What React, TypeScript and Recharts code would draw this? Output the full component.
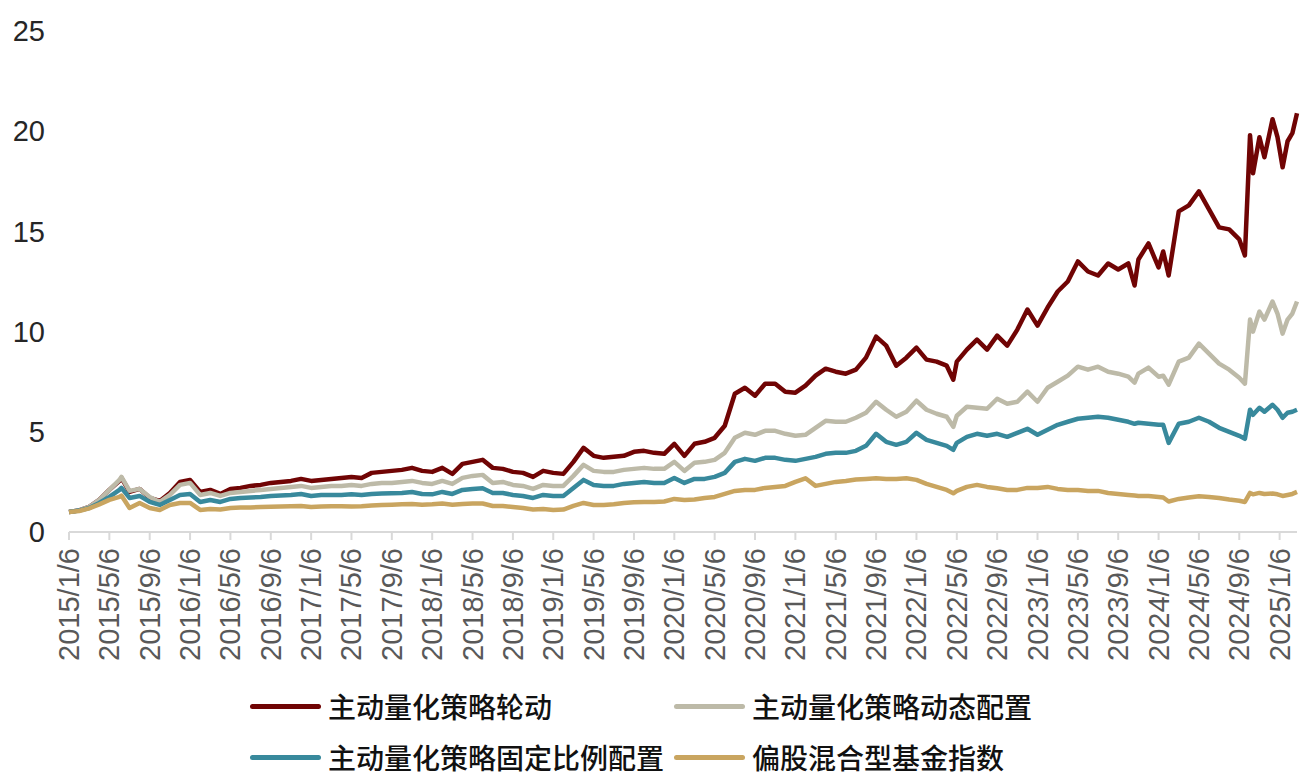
import { LineChart, Line, XAxis, YAxis } from 'recharts'

// observation dates (roughly monthly, with extra points around sharp moves)
const dates = [
  '2015/1/6', '2015/2/6', '2015/3/6', '2015/4/6', '2015/5/6', '2015/6/6', '2015/6/12', '2015/7/6', '2015/8/6', '2015/9/6', '2015/10/6', '2015/11/6', '2015/12/6',
  '2016/1/6', '2016/2/6', '2016/3/6', '2016/4/6', '2016/5/6', '2016/6/6', '2016/7/6', '2016/8/6', '2016/9/6', '2016/10/6', '2016/11/6', '2016/12/6',
  '2017/1/6', '2017/2/6', '2017/3/6', '2017/4/6', '2017/5/6', '2017/6/6', '2017/7/6', '2017/8/6', '2017/9/6', '2017/10/6', '2017/11/6', '2017/12/6',
  '2018/1/6', '2018/2/6', '2018/3/6', '2018/4/6', '2018/5/6', '2018/6/6', '2018/7/6', '2018/8/6', '2018/9/6', '2018/10/6', '2018/11/6', '2018/12/6',
  '2019/1/6', '2019/2/6', '2019/3/6', '2019/4/6', '2019/5/6', '2019/6/6', '2019/7/6', '2019/8/6', '2019/9/6', '2019/10/6', '2019/11/6', '2019/12/6',
  '2020/1/6', '2020/2/6', '2020/3/6', '2020/4/6', '2020/5/6', '2020/6/6', '2020/7/6', '2020/8/6', '2020/9/6', '2020/10/6', '2020/11/6', '2020/12/6',
  '2021/1/6', '2021/2/6', '2021/3/6', '2021/4/6', '2021/5/6', '2021/6/6', '2021/7/6', '2021/8/6', '2021/9/6', '2021/10/6', '2021/11/6', '2021/12/6',
  '2022/1/6', '2022/2/6', '2022/3/6', '2022/4/6', '2022/4/26', '2022/5/6', '2022/6/6', '2022/7/6', '2022/8/6', '2022/9/6', '2022/10/6', '2022/11/6', '2022/12/6',
  '2023/1/6', '2023/2/6', '2023/3/6', '2023/4/6', '2023/5/6', '2023/6/6', '2023/7/6', '2023/8/6', '2023/9/6', '2023/10/6', '2023/10/25', '2023/11/6', '2023/12/6',
  '2024/1/6', '2024/1/20', '2024/2/6', '2024/3/6', '2024/4/6', '2024/5/6', '2024/6/6', '2024/7/6', '2024/8/6', '2024/9/6', '2024/9/23', '2024/10/8', '2024/10/17', '2024/11/6', '2024/11/21', '2024/12/15', '2024/12/30',
  '2025/1/15', '2025/1/30', '2025/2/14', '2025/2/28',
]

const rotation = [
  1.0, 1.08, 1.25, 1.6, 2.1, 2.55, 2.7, 2.0, 2.15, 1.7, 1.55, 1.95, 2.5,
  2.6, 2.0, 2.1, 1.9, 2.15, 2.2, 2.3, 2.35, 2.45, 2.5, 2.55, 2.65,
  2.55, 2.6, 2.65, 2.7, 2.75, 2.7, 2.95, 3.0, 3.05, 3.1, 3.2, 3.05,
  3.0, 3.2, 2.9, 3.4, 3.5, 3.6, 3.2, 3.15, 3.0, 2.95, 2.75, 3.05,
  2.95, 2.9, 3.5, 4.2, 3.8, 3.7, 3.75, 3.8, 4.0, 4.05, 3.95, 3.9,
  4.4, 3.8, 4.4, 4.5, 4.7, 5.3, 6.9, 7.2, 6.8, 7.4, 7.4, 7.0,
  6.95, 7.3, 7.8, 8.15, 8.0, 7.9, 8.1, 8.7, 9.75, 9.3, 8.3, 8.7,
  9.2, 8.6, 8.5, 8.3, 7.6, 8.5, 9.1, 9.6, 9.1, 9.8, 9.3, 10.1, 11.1,
  10.3, 11.2, 12.0, 12.5, 13.5, 13.0, 12.8, 13.4, 13.1, 13.4, 12.3, 13.6, 14.4,
  13.2, 14.0, 12.8, 16.0, 16.3, 17.0, 16.1, 15.2, 15.1, 14.6, 13.8, 19.8, 17.9, 19.7, 18.7, 20.6, 19.7,
  18.2, 19.5, 19.9, 20.9,
]

const dynamicAlloc = [
  1.0, 1.08, 1.25, 1.6, 2.1, 2.6, 2.75, 2.05, 2.15, 1.75, 1.5, 1.85, 2.35,
  2.45, 1.85, 1.95, 1.8, 1.95, 2.0, 2.05, 2.1, 2.15, 2.2, 2.25, 2.3,
  2.2, 2.25, 2.3, 2.3, 2.35, 2.3, 2.4, 2.45, 2.45, 2.5, 2.55, 2.45,
  2.4, 2.55, 2.4, 2.7, 2.8, 2.85, 2.45, 2.5, 2.35, 2.3, 2.15, 2.35,
  2.3, 2.3, 2.8, 3.35, 3.05, 3.0, 3.0, 3.1, 3.15, 3.2, 3.15, 3.15,
  3.5, 3.05, 3.45, 3.5, 3.6, 3.95, 4.7, 4.95, 4.85, 5.05, 5.05, 4.9,
  4.8, 4.85, 5.2, 5.55, 5.5, 5.5, 5.7, 5.95, 6.5, 6.1, 5.75, 6.0,
  6.55, 6.1, 5.9, 5.75, 5.25, 5.8, 6.25, 6.2, 6.15, 6.65, 6.4, 6.5, 7.0,
  6.5, 7.2, 7.5, 7.8, 8.25, 8.1, 8.25, 8.0, 7.9, 7.75, 7.45, 7.9, 8.2,
  7.75, 7.8, 7.35, 8.5, 8.7, 9.4, 8.9, 8.4, 8.1, 7.7, 7.4, 10.6, 10.0, 11.0, 10.6, 11.5, 10.9,
  9.9, 10.6, 10.9, 11.5,
]

const fixedRatio = [
  1.0, 1.07, 1.2, 1.45, 1.75, 2.1, 2.2, 1.7, 1.8, 1.5, 1.35, 1.6, 1.85,
  1.9, 1.5, 1.6, 1.5, 1.65, 1.7, 1.72, 1.75, 1.8, 1.82, 1.85, 1.9,
  1.8, 1.85, 1.85, 1.85, 1.88, 1.85, 1.9, 1.92, 1.93, 1.95, 2.0, 1.9,
  1.88, 2.0, 1.9, 2.1, 2.15, 2.18, 1.95, 1.95, 1.85, 1.8, 1.7, 1.85,
  1.8, 1.8, 2.2, 2.6, 2.35, 2.3, 2.3, 2.4, 2.45, 2.5, 2.45, 2.45,
  2.7, 2.45, 2.65, 2.65, 2.75, 2.95, 3.5, 3.65, 3.55, 3.7, 3.7, 3.6,
  3.55, 3.65, 3.75, 3.9, 3.95, 3.95, 4.05, 4.3, 4.9, 4.5, 4.35, 4.5,
  4.95, 4.6, 4.45, 4.3, 4.1, 4.45, 4.75, 4.9, 4.8, 4.9, 4.75, 4.95, 5.15,
  4.85, 5.1, 5.35, 5.5, 5.65, 5.7, 5.75, 5.7, 5.6, 5.5, 5.4, 5.45, 5.4,
  5.35, 5.35, 4.45, 5.4, 5.5, 5.7, 5.5, 5.2, 5.0, 4.8, 4.65, 6.1, 5.85, 6.2, 6.0, 6.35, 6.1,
  5.7, 5.95, 6.0, 6.1,
]

const mixedIndex = [
  1.0, 1.05, 1.18, 1.38, 1.6, 1.75, 1.82, 1.2, 1.45, 1.2, 1.1, 1.35, 1.45,
  1.45, 1.1, 1.15, 1.12, 1.2, 1.22, 1.22, 1.25, 1.26, 1.27, 1.28, 1.3,
  1.25, 1.27, 1.28, 1.28, 1.27, 1.28, 1.32, 1.35, 1.36, 1.38, 1.4, 1.36,
  1.38, 1.42, 1.36, 1.4, 1.42, 1.42, 1.3, 1.3, 1.25, 1.2, 1.12, 1.15,
  1.1, 1.12, 1.3, 1.45, 1.35, 1.35, 1.38, 1.45, 1.48, 1.5, 1.5, 1.52,
  1.65, 1.6, 1.62, 1.7, 1.75, 1.9, 2.05, 2.1, 2.1, 2.2, 2.25, 2.3,
  2.5, 2.68, 2.3, 2.4, 2.5, 2.55, 2.62, 2.65, 2.68, 2.65, 2.65, 2.68,
  2.6, 2.4, 2.25, 2.1, 1.93, 2.05, 2.25, 2.35, 2.25, 2.18, 2.1, 2.1, 2.2,
  2.2, 2.25, 2.15, 2.1, 2.1, 2.05, 2.05, 1.95, 1.9, 1.85, 1.82, 1.8, 1.8,
  1.75, 1.72, 1.52, 1.65, 1.72, 1.78, 1.75, 1.7, 1.62, 1.56, 1.5, 1.95, 1.88, 1.95, 1.9, 1.92, 1.88,
  1.8, 1.85, 1.9, 2.0,
]

const tickLabels = [
  '2015/1/6', '2015/5/6', '2015/9/6', '2016/1/6', '2016/5/6', '2016/9/6', '2017/1/6', '2017/5/6',
  '2017/9/6', '2018/1/6', '2018/5/6', '2018/9/6', '2019/1/6', '2019/5/6', '2019/9/6', '2020/1/6',
  '2020/5/6', '2020/9/6', '2021/1/6', '2021/5/6', '2021/9/6', '2022/1/6', '2022/5/6', '2022/9/6',
  '2023/1/6', '2023/5/6', '2023/9/6', '2024/1/6', '2024/5/6', '2024/9/6', '2025/1/6',
]

const yTicks = [0, 5, 10, 15, 20, 25]

const SERIES = [
  { key: 'rotation', name: '主动量化策略轮动', color: '#700404' },
  { key: 'dynamic', name: '主动量化策略动态配置', color: '#BDBAA8' },
  { key: 'fixed', name: '主动量化策略固定比例配置', color: '#38899C' },
  { key: 'mixed', name: '偏股混合型基金指数', color: '#C9A560' },
]

// months elapsed since 2015/1/6
function toMonths(date: string): number {
  const [y, m, d] = date.split('/').map(Number)
  return (y - 2015) * 12 + (m - 1) + (d - 6) / 30.5
}

const data = dates.map((date, i) => ({
  t: toMonths(date),
  rotation: rotation[i],
  dynamic: dynamicAlloc[i],
  fixed: fixedRatio[i],
  mixed: mixedIndex[i],
}))

const xTicks = tickLabels.map(toMonths)

interface TickProps {
  x?: number
  y?: number
  index?: number
}

function DateTick({ x = 0, y = 0, index = 0 }: TickProps) {
  const ty = y + 6
  return (
    <text
      x={x}
      y={ty}
      transform={`rotate(-90 ${x} ${ty})`}
      textAnchor="end"
      dominantBaseline="central"
      fontSize={29}
      fill="#595959"
      fontFamily="'Liberation Sans', Arial, sans-serif"
    >
      {tickLabels[index]}
    </text>
  )
}

const legendRows = [
  [SERIES[0], SERIES[1]],
  [SERIES[2], SERIES[3]],
]

export default function App() {
  return (
    <div style={{ position: 'absolute', left: 0, top: 0, width: 1308, height: 783, background: '#fff' }}>
      <LineChart width={1308} height={783} data={data} margin={{ top: 31, right: 11, bottom: 111, left: 0 }}>
        <XAxis
          type="number"
          dataKey="t"
          domain={[0, data[data.length - 1].t]}
          ticks={xTicks}
          interval={0}
          height={140}
          tickSize={8}
          axisLine={{ stroke: '#D9D9D9', strokeWidth: 2 }}
          tickLine={{ stroke: '#D9D9D9', strokeWidth: 2 }}
          tick={<DateTick />}
        />
        <YAxis
          domain={[0, 25]}
          ticks={yTicks}
          width={69}
          axisLine={false}
          tickLine={false}
          tickSize={0}
          tickMargin={24}
          tick={{ fontSize: 29, fill: '#262626', fontFamily: "'Liberation Sans', Arial, sans-serif" }}
        />
        {SERIES.map((s) => (
          <Line
            key={s.key}
            dataKey={s.key}
            name={s.name}
            type="linear"
            stroke={s.color}
            strokeWidth={4.5}
            strokeLinejoin="round"
            dot={false}
            isAnimationActive={false}
          />
        ))}
      </LineChart>

      {legendRows.map((row, r) => (
        <div key={r} style={{ position: 'absolute', left: 250, top: 686 + r * 51, height: 40 }}>
          {row.map((s, c) => (
            <div
              key={s.key}
              style={{ position: 'absolute', left: c * 424, top: 0, height: 40, display: 'flex', alignItems: 'center', whiteSpace: 'nowrap' }}
            >
              <span style={{ display: 'inline-block', width: 71, height: 5, borderRadius: 3, background: s.color }} />
              <span
                style={{
                  marginLeft: 7,
                  fontSize: 28,
                  fontWeight: 500,
                  color: '#111',
                  fontFamily: "'Noto Sans CJK SC', sans-serif",
                }}
              >
                {s.name}
              </span>
            </div>
          ))}
        </div>
      ))}
    </div>
  )
}
